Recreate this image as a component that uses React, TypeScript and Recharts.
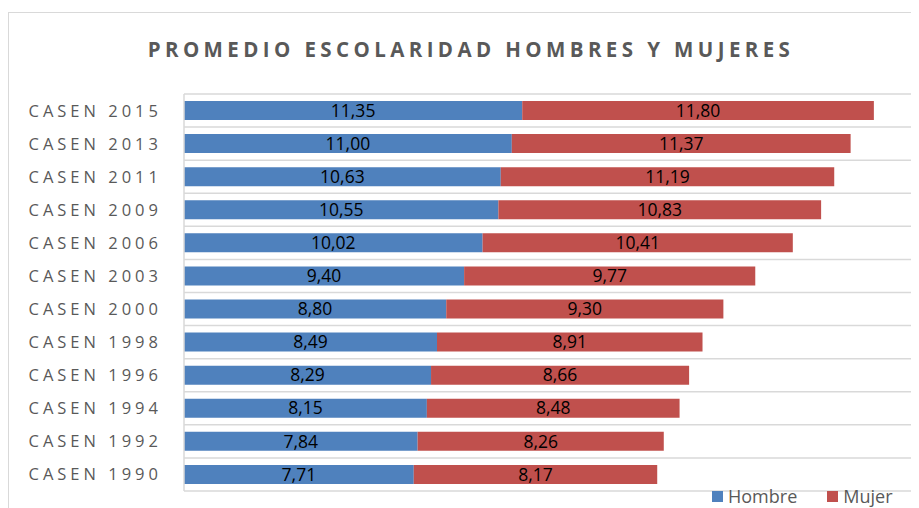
import { BarChart, Bar, XAxis, YAxis, CartesianGrid, Legend, LabelList } from 'recharts';

const categories = [
  'CASEN 2015',
  'CASEN 2013',
  'CASEN 2011',
  'CASEN 2009',
  'CASEN 2006',
  'CASEN 2003',
  'CASEN 2000',
  'CASEN 1998',
  'CASEN 1996',
  'CASEN 1994',
  'CASEN 1992',
  'CASEN 1990',
];
const hombre = [11.35, 11.0, 10.63, 10.55, 10.02, 9.4, 8.8, 8.49, 8.29, 8.15, 7.84, 7.71];
const mujer = [11.8, 11.37, 11.19, 10.83, 10.41, 9.77, 9.3, 8.91, 8.66, 8.48, 8.26, 8.17];

const data = categories.map((name, i) => ({ name, hombre: hombre[i], mujer: mujer[i] }));

const BLUE = '#4f81bd';
const RED = '#c0504d';
const GRID = '#d9d9d9';
const FONT = '"Open Sans", sans-serif';

const fmt = (v: unknown) => Number(v).toFixed(2).replace('.', ',');

function CategoryTick(props: { x?: number; y?: number; payload?: { value: string } }) {
  const { x = 0, y = 0, payload } = props;
  if (!payload) return null;
  return (
    <text
      x={x - 14}
      y={y}
      dy={6}
      textAnchor="end"
      fill="#595959"
      fontSize={16.5}
      letterSpacing={4}
      fontFamily={FONT}
    >
      {payload.value}
    </text>
  );
}

function ChartLegend() {
  const items = [
    { label: 'Hombre', color: BLUE },
    { label: 'Mujer', color: RED },
  ];
  return (
    <div style={{ display: 'flex', fontFamily: FONT, fontSize: 18, color: '#595959', lineHeight: '20px' }}>
      {items.map((it) => (
        <div key={it.label} style={{ display: 'flex', alignItems: 'center', marginRight: 30 }}>
          <span
            style={{ display: 'inline-block', width: 11, height: 11, background: it.color, marginRight: 5 }}
          />
          {it.label}
        </div>
      ))}
    </div>
  );
}

export default function App() {
  return (
    <div
      style={{
        position: 'relative',
        width: 911,
        height: 496,
        marginTop: 4,
        overflow: 'hidden',
        borderLeft: `1px solid ${GRID}`,
        borderTop: `1px solid ${GRID}`,
      }}
    >
      <div
        style={{
          position: 'absolute',
          top: 22,
          left: 0,
          width: 924,
          textAlign: 'center',
          fontFamily: FONT,
          fontWeight: 700,
          fontSize: 20.5,
          letterSpacing: 4.4,
          color: '#595959',
        }}
      >
        PROMEDIO ESCOLARIDAD HOMBRES Y MUJERES
      </div>
      <BarChart
        width={940}
        height={500}
        data={data}
        layout="vertical"
        margin={{ top: 81, right: 20, bottom: 22, left: 0 }}
      >
        <CartesianGrid
          vertical={false}
          stroke={GRID}
          strokeWidth={1.5}
          horizontalCoordinatesGenerator={({ offset }: any) =>
            categories.map((_, i) => offset.top + (i * offset.height) / categories.length).concat(offset.top + offset.height)
          }
        />
        <XAxis type="number" domain={[0, 25]} hide />
        <YAxis
          type="category"
          dataKey="name"
          width={175}
          axisLine={{ stroke: GRID, strokeWidth: 1.5 }}
          tickLine={false}
          tick={<CategoryTick />}
          interval={0}
        />
        <Legend
          layout="horizontal"
          verticalAlign="middle"
          align="center"
          wrapperStyle={{ top: 473, left: 703, width: 240 }}
          content={<ChartLegend />}
        />
        <Bar dataKey="hombre" name="Hombre" stackId="a" fill={BLUE} barSize={19} isAnimationActive={false}>
          <LabelList dataKey="hombre" position="center" formatter={fmt} fill="#000" fontSize={17.5} fontFamily={FONT} />
        </Bar>
        <Bar dataKey="mujer" name="Mujer" stackId="a" fill={RED} barSize={19} isAnimationActive={false}>
          <LabelList dataKey="mujer" position="center" formatter={fmt} fill="#000" fontSize={17.5} fontFamily={FONT} />
        </Bar>
      </BarChart>
    </div>
  );
}
